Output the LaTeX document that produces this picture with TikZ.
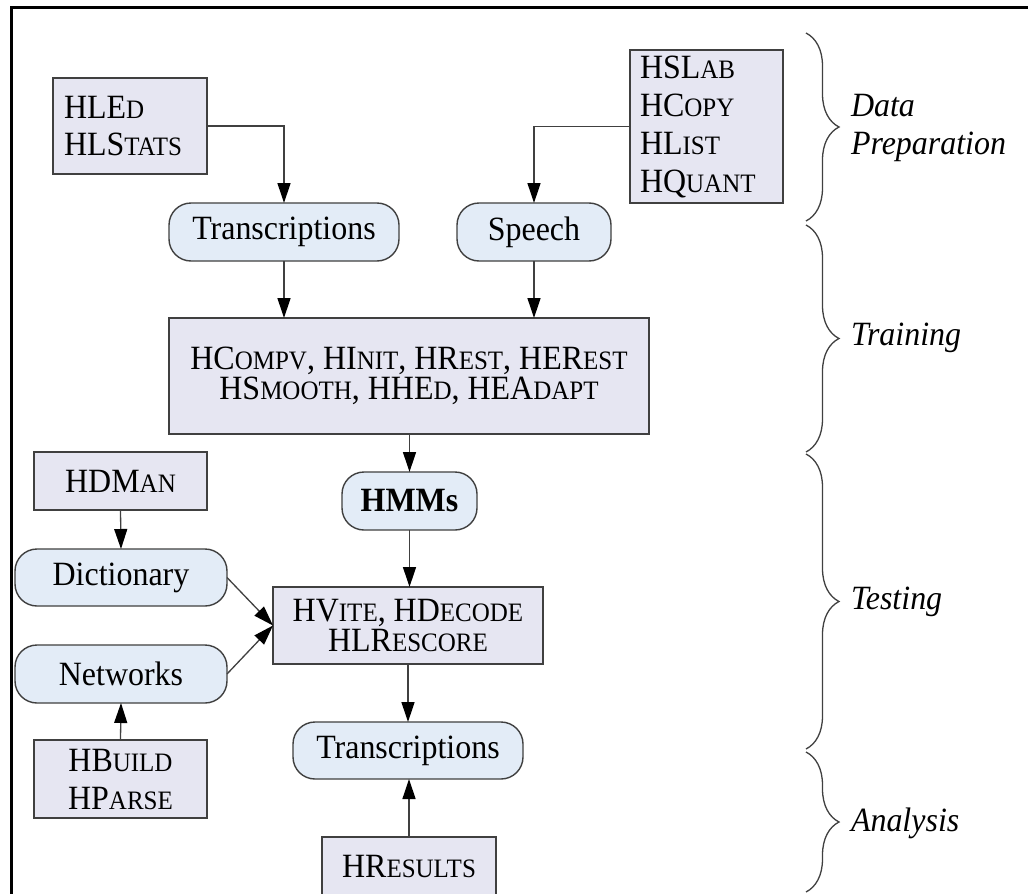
\documentclass[tikz,border=0pt]{standalone}
\usepackage{fontspec}
\setmainfont{Liberation Serif}[FakeStretch=0.94]
\usetikzlibrary{arrows.meta,decorations.pathreplacing}

\definecolor{boxfill}{RGB}{230,230,242}
\definecolor{pillfill}{RGB}{227,236,247}
\definecolor{edgeclr}{RGB}{64,64,64}
% small capitals imitated with smaller upper-case letters
\newcommand\sk[1]{{\fontsize{26.6}{30}\selectfont #1}}

\begin{document}
\begin{tikzpicture}[x=1pt,y=-1pt,
  every node/.style={font=\fontsize{34}{38}\selectfont, inner sep=0pt, outer sep=0pt},
  tool/.style={draw=edgeclr, fill=boxfill, line width=1.4pt},
  store/.style={draw=edgeclr, fill=pillfill, line width=1.4pt, rounded corners=22pt},
  flow/.style={draw=edgeclr, line width=1.3pt, -{Triangle[length=20pt,width=13pt,color=black]}},
  phase/.style={draw=edgeclr, line width=1.3pt, decorate, decoration={brace,amplitude=33pt}},
  stage/.style={font=\fontsize{34}{38}\selectfont\itshape, anchor=west, align=left}
]
\useasboundingbox (0,0) rectangle (1028,894);
\clip (0,0) rectangle (1028,894);
\fill[white] (0,0) rectangle (1028,894);
% outer frame
\draw[line width=3pt] (11,7) rectangle (1100,1000);

% data preparation
\node[tool, minimum width=154pt, minimum height=96pt, text width=132pt, align=left,
      font=\fontsize{34}{37}\selectfont] (hled) at (130,126) {HLE\sk{D}\\HLS\sk{TATS}};
\node[tool, minimum width=153pt, minimum height=153pt, text width=133pt, align=left]
      (hslab) at (706.5,126.5) {HSL\sk{AB}\\HC\sk{OPY}\\HL\sk{IST}\\HQ\sk{UANT}};
\node[store, minimum width=230pt, minimum height=58pt] (trans1) at (284,232) {Transcriptions};
\node[store, minimum width=154pt, minimum height=58pt] (speech) at (534,232) {Speech};

% training
\node[tool, minimum width=480pt, minimum height=116pt, align=center,
      font=\fontsize{34}{30}\selectfont] (train) at (409,376)
      {HC\sk{OMPV}, HI\sk{NIT}, HR\sk{EST}, HER\sk{EST}\\HS\sk{MOOTH}, HHE\sk{D}, HEA\sk{DAPT}};
\node[store, minimum width=135pt, minimum height=58pt,
      font=\fontsize{34}{38}\selectfont\bfseries] (hmms) at (409.5,501) {HMMs};

% testing
\node[tool, minimum width=173pt, minimum height=58pt] (hdman) at (120.5,481) {HDM\sk{AN}};
\node[store, minimum width=212pt, minimum height=57pt] (dict) at (121,577.5) {Dictionary};
\node[store, minimum width=212pt, minimum height=58pt] (netw) at (121,674) {Networks};
\node[tool, minimum width=270pt, minimum height=77pt, align=center,
      font=\fontsize{34}{30}\selectfont] (hvite) at (408,625.5) {HV\sk{ITE}, HD\sk{ECODE}\\HLR\sk{ESCORE}};
\node[tool, minimum width=173pt, minimum height=78pt, align=center]
      (hbuild) at (120.5,779) {HB\sk{UILD}\\HP\sk{ARSE}};

% analysis
\node[store, minimum width=230pt, minimum height=57pt] (trans2) at (408,750.5) {Transcriptions};
\node[tool, minimum width=174pt, minimum height=58pt] (hres) at (409,866) {HR\sk{ESULTS}};

% connectors
\draw[flow] (hled.east) -| (trans1.north);
\draw[flow] (hslab.west) -| (speech.north);
\draw[flow] (trans1.south) -- (trans1.south |- train.north);
\draw[flow] (speech.south) -- (speech.south |- train.north);
\draw[flow] (train.south -| hmms.north) -- (hmms.north);
\draw[flow] (hmms.south) -- (hmms.south |- hvite.north);
\draw[flow] (hdman.south) -- (dict.north);
\draw[flow] (hbuild.north) -- (netw.south);
\draw[flow] (dict.east) -- (hvite.west);
\draw[flow] (netw.east) -- (hvite.west);
\draw[flow] (hvite.south) -- (hvite.south |- trans2.north);
\draw[flow] (hres.north) -- (hres.north |- trans2.south);

% phase braces and their names
\draw[phase] (806,33) -- (806,221);
\draw[phase] (806,225) -- (806,452);
\draw[phase] (806,454) -- (806,749);
\draw[phase] (806,752) -- (806,892);
\node[stage] (lprep) at (851,128) {Data\\Preparation};
\node[stage] (ltrain) at (851,338) {Training};
\node[stage] (ltest) at (851,602) {Testing};
\node[stage] (lanal) at (851,823) {Analysis};
\end{tikzpicture}
\end{document}
